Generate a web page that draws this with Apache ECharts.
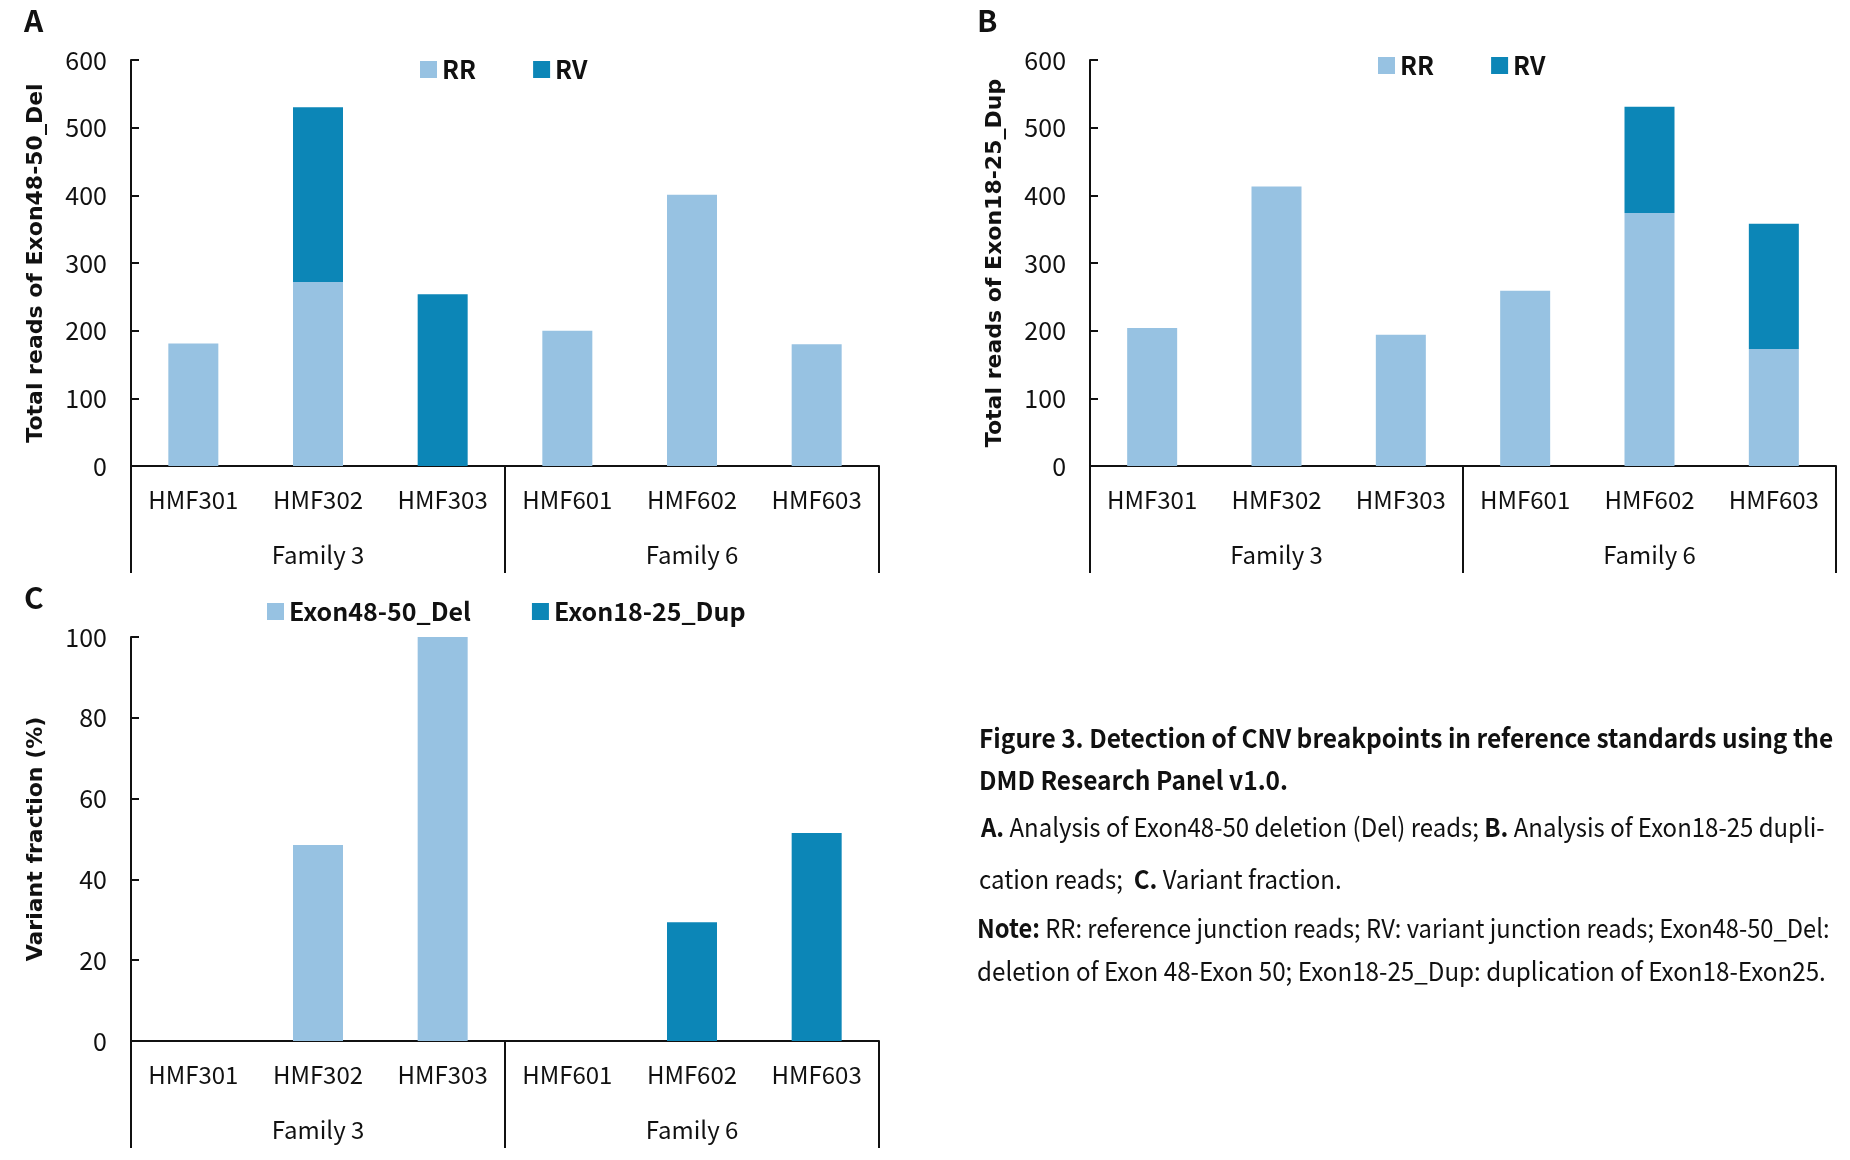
<!DOCTYPE html>
<html>
<head>
<meta charset="utf-8">
<script src="https://cdn.jsdelivr.net/npm/echarts@6/dist/echarts.min.js"></script>
<style>html,body{margin:0;padding:0;background:#fff}#c{width:1850px;height:1160px}</style>
</head>
<body>
<div id="c"></div>
<script>
// ---- data ----
const samples = ['HMF301', 'HMF302', 'HMF303', 'HMF601', 'HMF602', 'HMF603'];
const families = ['Family 3', 'Family 6'];
const aRR = [181, 272, 0, 200, 401, 180];
const aRV = [0, 258, 254, 0, 0, 0];
const bRR = [204, 413, 194, 259, 374, 173];
const bRV = [0, 0, 0, 0, 157, 185];
const cDel = [0, 48.5, 100, null, null, null];
const cDup = [null, null, null, 0, 29.4, 51.5];
const readsAxis = { min: 0, max: 600, interval: 100 };
const fracAxis = { min: 0, max: 100, interval: 20 };

// ---- styles ----
const LIGHT = '#97C2E2', DARK = '#0C86B7';
const TXT = 'Noto Sans CJK SC';
const INK = '#111';

const chart = echarts.init(document.getElementById('c'), null, { renderer: 'canvas' });

const grids = [
  { left: 131, top: 60, width: 748, height: 406 },
  { left: 1090, top: 60, width: 746, height: 406 },
  { left: 131, top: 637, width: 748, height: 404 }
];

function sampleAxis(g) {
  return {
    type: 'category', gridIndex: g, data: samples, position: 'bottom',
    axisLine: { show: true, lineStyle: { color: INK, width: 2 } },
    axisTick: { show: false },
    axisLabel: { fontFamily: TXT, fontSize: 24, color: INK, margin: 22, interval: 0 },
    splitLine: { show: false }
  };
}
function familyAxis(g, len) {
  return {
    type: 'category', gridIndex: g, data: families, position: 'bottom',
    axisLine: { show: false },
    axisTick: { show: true, length: len, lineStyle: { color: INK, width: 2 } },
    axisLabel: { fontFamily: TXT, fontSize: 24, color: INK, margin: 77, interval: 0 },
    splitLine: { show: false }
  };
}
function valAxis(g, spec, name) {
  return {
    type: 'value', gridIndex: g, min: spec.min, max: spec.max, interval: spec.interval,
    name: name, nameLocation: 'middle', nameRotate: 90, nameGap: 84,
    nameTextStyle: { fontFamily: 'DejaVu Sans', fontWeight: 'bold', fontSize: 22, color: INK },
    axisLine: { show: true, lineStyle: { color: INK, width: 2 } },
    axisTick: { show: true, inside: true, length: 8, lineStyle: { color: INK, width: 2 } },
    axisLabel: { fontFamily: TXT, fontSize: 25, color: INK, margin: 24 },
    splitLine: { show: false }
  };
}
function bar(name, data, xi, yi, color, stack) {
  return {
    type: 'bar', name: name, data: data, xAxisIndex: xi, yAxisIndex: yi,
    stack: stack, barWidth: 50, itemStyle: { color: color }, silent: true
  };
}
function legend(left, top, names, gap) {
  return {
    left: left, top: top, data: names, itemWidth: 17, itemHeight: 17, itemGap: gap,
    icon: 'rect', selectedMode: false,
    textStyle: { fontFamily: TXT, fontSize: 25, fontWeight: 'bold', color: INK }
  };
}

function label(x, y, t) {
  return {
    type: 'text', x: x, y: y,
    style: { text: t, fontFamily: TXT, fontSize: 30, fontWeight: 'bold', fill: INK, verticalAlign: 'middle' }
  };
}
function line(x, y, text, sx) {
  return {
    type: 'text', x: x, y: y, scaleX: sx, originX: 0,
    style: {
      text: text, rich: {
        b: { fontFamily: TXT, fontSize: 26, fontWeight: 'bold', fill: INK },
        n: { fontFamily: TXT, fontSize: 26, fill: INK }
      },
      fontFamily: TXT, fontSize: 26, fill: INK, verticalAlign: 'middle', align: 'left'
    }
  };
}

chart.setOption({
  backgroundColor: '#fff',
  animation: false,
  grid: grids,
  xAxis: [sampleAxis(0), familyAxis(0, 107), sampleAxis(1), familyAxis(1, 107), sampleAxis(2), familyAxis(2, 107)],
  yAxis: [
    valAxis(0, readsAxis, 'Total reads of Exon48-50_Del'),
    valAxis(1, readsAxis, 'Total reads of Exon18-25_Dup'),
    valAxis(2, fracAxis, 'Variant fraction (%)')
  ],
  legend: [
    legend(415, 52, ['RR', 'RV'], 57),
    legend(1373, 48, ['RR', 'RV'], 57),
    legend(262, 594, ['Exon48-50_Del', 'Exon18-25_Dup'], 61)
  ],
  series: [
    bar('RR', aRR, 0, 0, LIGHT, 'a'),
    bar('RV', aRV, 0, 0, DARK, 'a'),
    bar('RR', bRR, 2, 1, LIGHT, 'b'),
    bar('RV', bRV, 2, 1, DARK, 'b'),
    bar('Exon48-50_Del', cDel, 4, 2, LIGHT, 'c'),
    bar('Exon18-25_Dup', cDup, 4, 2, DARK, 'c')
  ],
  graphic: [
    label(24, 21, 'A'),
    label(977, 21, 'B'),
    label(24, 598, 'C'),
    line(979, 738, '{b|Figure 3. Detection of CNV breakpoints in reference standards using the}', 0.942),
    line(979, 780, '{b|DMD Research Panel v1.0.}', 0.942),
    line(981, 827, '{b|A.}{n| Analysis of Exon48-50 deletion (Del) reads; }{b|B.}{n| Analysis of Exon18-25 dupli-}', 0.922),
    line(979, 879, '{n|cation reads;  }{b|C.}{n| Variant fraction.}', 0.925),
    line(977, 928, '{b|Note:}{n| RR: reference junction reads; RV: variant junction reads; Exon48-50_Del:}', 0.912),
    line(977, 971, '{n|deletion of Exon 48-Exon 50; Exon18-25_Dup: duplication of Exon18-Exon25.}', 0.93)
  ]
});
</script>
</body>
</html>
